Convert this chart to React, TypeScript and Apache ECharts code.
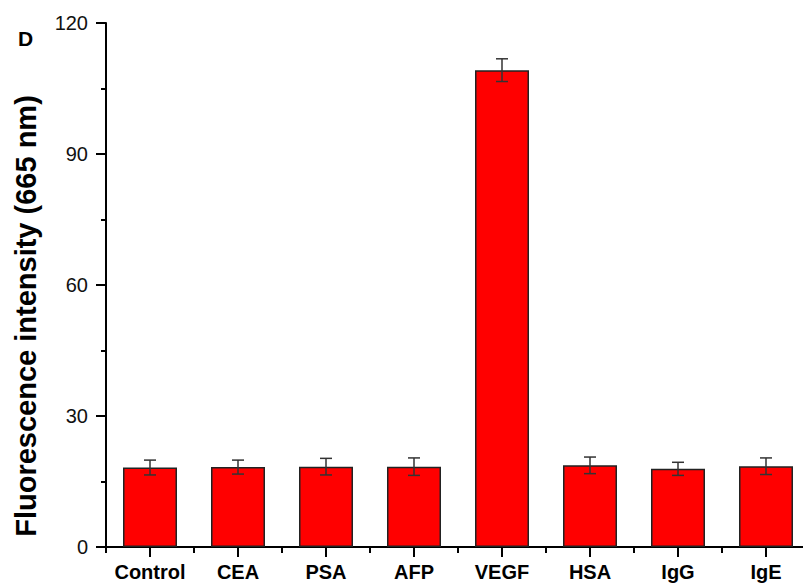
import React, { useEffect, useRef } from "react";
import * as echarts from "echarts";

const categories = ["Control", "CEA", "PSA", "AFP", "VEGF", "HSA", "IgG", "IgE"];
const values = [18.2, 18.3, 18.4, 18.4, 109.2, 18.7, 17.9, 18.5];
const errors = [1.7, 1.6, 1.9, 2.0, 2.6, 1.9, 1.5, 1.9];
const yTicks = { min: 0, max: 120, interval: 30 };
const panelLabel = "D";
const yTitle = "Fluorescence intensity (665 nm)";

const FONT = "Liberation Sans, Arial, sans-serif";

export default function App() {
  const ref = useRef<HTMLDivElement>(null);
  useEffect(() => {
    if (!ref.current) return;
    const chart = echarts.init(ref.current, undefined, { renderer: "svg" });
    const errData = categories.map((c, i) => [i, values[i] - errors[i], values[i] + errors[i]]);
    const tickData = categories.map((c, i) => [i, 0]);
    chart.setOption({
      animation: false,
      backgroundColor: "#fff",
      textStyle: { fontFamily: FONT },
      title: {
        text: panelLabel,
        left: 10,
        top: 20,
        padding: 0,
        textStyle: { fontSize: 21, fontWeight: "bold", color: "#000", fontFamily: FONT },
      },
      grid: { left: 98, right: 1, top: 15, bottom: 39, outerBoundsMode: "none" },
      xAxis: {
        type: "category",
        data: categories,
        axisLine: { show: true, lineStyle: { color: "#000", width: 2 } },
        axisTick: { show: true, alignWithLabel: true, length: 10, lineStyle: { color: "#000", width: 2 } },
        axisLabel: { interval: 0, margin: 15, color: "#000", fontSize: 20, fontWeight: "bold", fontFamily: FONT },
      },
      yAxis: {
        type: "value",
        min: yTicks.min,
        max: yTicks.max,
        interval: yTicks.interval,
        name: yTitle,
        nameLocation: "middle",
        nameGap: 66,
        nameTextStyle: {
          color: "#000",
          fontSize: 29,
          fontWeight: "bold",
          fontFamily: FONT,
          padding: [0, 62, 0, 0],
        },
        axisLine: { show: true, lineStyle: { color: "#000", width: 2 } },
        axisTick: { show: true, length: 10, lineStyle: { color: "#000", width: 2 } },
        minorTick: { show: true, splitNumber: 2, length: 5, lineStyle: { color: "#000", width: 2 } },
        axisLabel: { margin: 18, color: "#111", fontSize: 20, fontFamily: FONT },
        splitLine: { show: false },
      },
      series: [
        {
          type: "bar",
          data: values,
          barWidth: 54,
          z: 2,
          itemStyle: { color: "#ff0000", borderColor: "#222", borderWidth: 1.5 },
        },
        {
          type: "custom",
          data: errData,
          z: 5,
          renderItem: (params: any, api: any) => {
            const x = api.value(0);
            const lo = api.coord([x, api.value(1)]);
            const hi = api.coord([x, api.value(2)]);
            const hw = 6;
            const style = { stroke: "#333", lineWidth: 1.5 };
            return {
              type: "group",
              children: [
                { type: "line", shape: { x1: hi[0], y1: hi[1], x2: lo[0], y2: lo[1] }, style },
                { type: "line", shape: { x1: hi[0] - hw, y1: hi[1], x2: hi[0] + hw, y2: hi[1] }, style },
                { type: "line", shape: { x1: lo[0] - hw, y1: lo[1], x2: lo[0] + hw, y2: lo[1] }, style },
              ],
            };
          },
        },
        {
          type: "custom",
          data: tickData,
          z: 6,
          clip: false,
          silent: true,
          renderItem: (params: any, api: any) => {
            const i = api.value(0);
            const c = api.coord([i, api.value(1)]);
            const bw = api.size([1, 0])[0];
            const style = { stroke: "#000", lineWidth: 2 };
            const xl = c[0] - bw / 2;
            const children: any[] = [
              { type: "line", shape: { x1: xl, y1: c[1], x2: xl, y2: c[1] + 6 }, style },
            ];
            if (i === categories.length - 1) {
              const xr = c[0] + bw / 2;
              children.push({ type: "line", shape: { x1: xr, y1: c[1], x2: xr, y2: c[1] + 6 }, style });
            }
            return { type: "group", children };
          },
        },
      ],
    });
    return () => chart.dispose();
  }, []);
  return <div ref={ref} style={{ width: 803, height: 578 }} />;
}
